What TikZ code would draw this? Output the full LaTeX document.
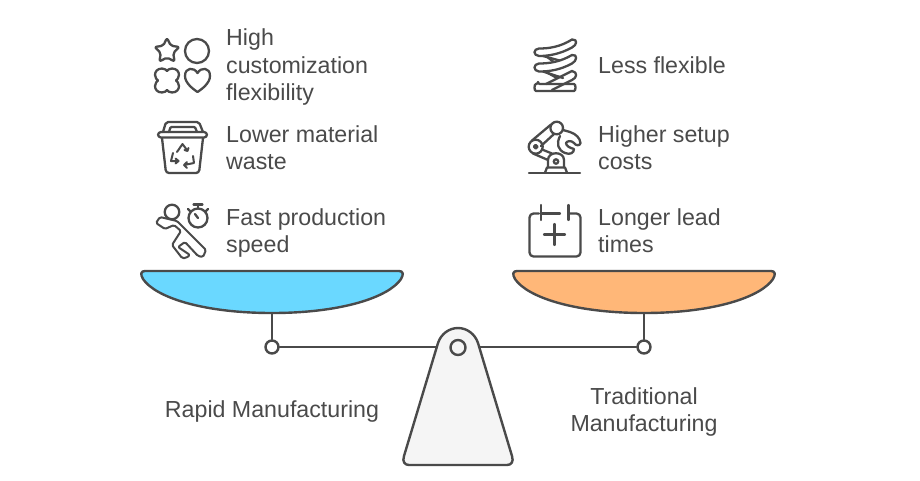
\documentclass[tikz,border=0pt]{standalone}
\usepackage{fontspec}
\setmainfont{Liberation Sans}
\usetikzlibrary{positioning, calc}
\definecolor{inkgray}{HTML}{4A4A4A}
\definecolor{panblue}{HTML}{6AD8FF}
\definecolor{panorange}{HTML}{FFB778}
\definecolor{basegray}{HTML}{F5F5F5}
\tikzset{
    line/.style={draw=inkgray, line width=2.4pt, line join=round, line cap=round},
    icon/.style={draw=inkgray, line width=2.3pt, line join=round, line cap=round},
    joint/.style={circle, draw=inkgray, line width=2.4pt, fill=white, inner sep=0pt, minimum size=13pt},
    label/.style={text=inkgray, font=\fontsize{23.2}{27.5}\selectfont, align=left, anchor=west, inner sep=0pt, yshift=-2.5pt},
    title/.style={text=inkgray, font=\fontsize{23.2}{27.5}\selectfont, align=center, inner sep=0pt, yshift=-2.5pt}
}

\begin{document}
\begin{tikzpicture}[x=1pt, y=-1pt]
\useasboundingbox (0,0) rectangle (920,480);

% Labels of both pans
\foreach \name/\x/\y/\txt in {
    high/226/65/{\strut High\\customization\\flexibility\strut},
    waste/226/148/{\strut Lower material\\waste\strut},
    speed/226/231/{\strut Fast production\\speed\strut},
    less/598/65/{\strut Less flexible},
    setup/598/148/{\strut Higher setup\\costs\strut},
    lead/598/231/{\strut Longer lead\\times\strut}} {
    \node[label] (\name) at (\x,\y) {\txt};
}
\node[title] (rapid) at (272,409.5) {\strut Rapid Manufacturing};
\node[title] (traditional) at (644,410) {\strut Traditional\\Manufacturing\strut};

% Beam and joints
\node[joint] (leftjoint) at (272,347) {};
\node[joint] (rightjoint) at (644,347) {};
\coordinate (leftstem) at (272,313);
\coordinate (rightstem) at (644,313);
\coordinate (pivotcenter) at (458,347.5);
\draw[line] (leftjoint) -- (rightjoint);
\draw[line] (leftstem) -- (leftjoint);
\draw[line] (rightstem) -- (rightjoint);

% Pans
\foreach \px/\col in {272/panblue, 644/panorange} {
    \begin{scope}[shift={(\px,0)}]
    \draw[line, fill=\col] (-127,271) -- (127,271)
        .. controls (131,271) and (132,274) .. (129,279)
        .. controls (117,297) and (70,313) .. (0,313)
        .. controls (-70,313) and (-117,297) .. (-129,279)
        .. controls (-132,274) and (-131,271) .. (-127,271) -- cycle;
    \end{scope}
}

% Base of the scale
\draw[line, fill=basegray] (438,343)
    .. controls (441,334) and (449,328) .. (458,328)
    .. controls (467,328) and (475,334) .. (478,343)
    -- (512,456) .. controls (514,462) and (511,465) .. (507,465)
    -- (409,465) .. controls (405,465) and (402,462) .. (404,456) -- cycle;
\node[joint, minimum size=15pt, fill=basegray] (pivot) at (pivotcenter) {};

% Shapes icon
\draw[icon, rounded corners=2pt] (167,38) -- (170.8,45.7) -- (179.4,47) -- (173.2,53) -- (174.6,61.5)
    -- (167,57.5) -- (159.4,61.5) -- (160.8,53) -- (154.6,47) -- (163.2,45.7) -- cycle;
\draw[icon] (197,51) circle (12);
\draw[icon] (162,68.5) .. controls (165,68.5) and (166,70) .. (167,71)
    .. controls (168,70) and (169,68.5) .. (172,68.5)
    .. controls (177,68.5) and (179,72) .. (179,75)
    .. controls (179,78) and (177,79.5) .. (176,80.5)
    .. controls (177,81.5) and (179,83) .. (179,86)
    .. controls (179,89) and (177,92.5) .. (172,92.5)
    .. controls (169,92.5) and (168,91) .. (167,90)
    .. controls (166,91) and (165,92.5) .. (162,92.5)
    .. controls (157,92.5) and (155,89) .. (155,86)
    .. controls (155,83) and (157,81.5) .. (158,80.5)
    .. controls (157,79.5) and (155,78) .. (155,75)
    .. controls (155,72) and (157,68.5) .. (162,68.5) -- cycle;
\draw[icon] (197.5,73) .. controls (194,67) and (185,67) .. (185,76)
    .. controls (185,83) and (193,89) .. (197.5,92)
    .. controls (202,89) and (210,83) .. (210,76)
    .. controls (210,67) and (201,67) .. (197.5,73) -- cycle;

% Recycling bin icon
\draw[icon, rounded corners=2pt] (163,132) -- (166,122) -- (199,122) -- (203,132);
\draw[icon, rounded corners=1pt] (169,132) -- (170.5,127) -- (195,127) -- (197,132);
\draw[icon, rounded corners=3pt] (158,132) rectangle (207,137.5);
\draw[icon, rounded corners=3pt] (162,138) -- (166,173) -- (199,173) -- (203,138);
\draw[icon, line width=2pt] (177,152) -- (182.5,144) -- (187,150) (184.5,150) -- (187.5,151) -- (188.5,148);
\draw[icon, line width=2pt] (173,153) -- (171,161) -- (178,161) (175.5,158.5) -- (178.5,161) -- (175.5,163.5);
\draw[icon, line width=2pt] (193,156) -- (194,163) -- (184,165) (187,162) -- (184,165) -- (187,168);

% Runner and stopwatch icon
\draw[icon] (172,212) circle (7.3);
\draw[icon, line width=2pt, rounded corners=1.5pt] (160,217) -- (177,221) -- (206,250) -- (203,257) -- (198,256) -- (185,242)
    -- (178,247) -- (190,255) -- (186,258) -- (182,258) -- (172,245) -- (181,231) -- (174,225)
    -- (165,229) -- (156,223) -- cycle;
\draw[icon] (198,218) circle (9.5);
\draw[icon] (198,218) -- (195,214);
\draw[icon] (198,208.5) -- (198,204.5) (193.5,204.5) -- (202.5,204.5);
\draw[icon] (188,209) -- (190.5,211.5) (208,209) -- (205.5,211.5);

% Spring icon
\draw[icon] (543,71.5) -- (563,78) (543,56) -- (565,62);
\draw[icon] (557,78) -- (546,72) (555,63) -- (546,56);
\draw[icon, rounded corners=2pt] (538,84) -- (572,84) .. controls (576,84) and (576,91) .. (572,91) -- (538,91)
    .. controls (534,91) and (534,84) .. (538,84) -- cycle;
\draw[icon] (546,84) -- (572,71) .. controls (578,72) and (577,78) .. (572,80) -- (552,90);
\draw[icon, fill=white] (539,63.5) .. controls (549,63.5) and (560,62) .. (572,55)
    .. controls (578,54) and (577,61) .. (572,63.5)
    .. controls (560,70) and (549,71.5) .. (539,71.5)
    .. controls (533,71) and (533,64) .. (539,63.5) -- cycle;
\draw[icon, fill=white] (539,48.5) .. controls (549,48.5) and (560,47) .. (572,39.5)
    .. controls (578,39) and (577,45) .. (572,47.5)
    .. controls (560,54) and (549,56) .. (539,56)
    .. controls (533,55.5) and (533,49) .. (539,48.5) -- cycle;

% Robot arm icon
\draw[icon] (529,172.7) -- (580,172.7);
\draw[icon] (545,172.7) -- (547,167.5) -- (565,167.5) -- (567,172.7);
\draw[icon] (548,167.5) -- (548,160) .. controls (548,151) and (564,151) .. (564,160) -- (564,167.5);
\draw[icon] (556,161.5) circle (2.2);
\draw[icon] (535.7,146.7) circle (7);
\draw[icon] (535.7,146.7) circle (1.8);
\draw[icon] (556.7,128) circle (6.3);
\draw[icon] (532,140.5) -- (551,124.5) (541,146) -- (554,134);
\draw[icon] (533,153.5) -- (548,160) (542,149.5) -- (552,153.5);
\draw[icon] (563,130) -- (570,132) .. controls (576,134) and (580,138) .. (580.5,143)
    .. controls (580,146) and (576,146) .. (574,143) .. controls (571,140) and (567,141) .. (566,143)
    .. controls (566,146) and (570,148) .. (574,149)
    .. controls (574,153) and (570,155) .. (565,153)
    .. controls (558,150) and (556,144) .. (560,136);

% Calendar icon
\draw[icon, rounded corners=4pt] (539,213.5) -- (529.5,213.5) -- (529.5,256.5) -- (580.5,256.5) -- (580.5,213.5) -- (568.5,213.5);
\draw[icon] (541,205) -- (541,220) (568.5,205) -- (568.5,220);
\draw[icon] (541,213.5) -- (560,213.5);
\draw[icon] (544,234.5) -- (565,234.5) (554.5,224) -- (554.5,245);
\end{tikzpicture}
\end{document}
